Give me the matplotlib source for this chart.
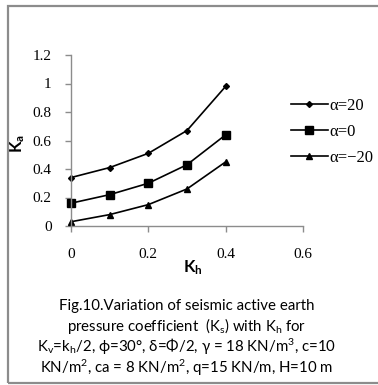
import matplotlib
matplotlib.use("Agg")
import matplotlib.pyplot as plt
from matplotlib.patches import Rectangle

plt.rcParams["mathtext.fontset"] = "custom"
plt.rcParams["mathtext.rm"] = "Lato"
plt.rcParams["mathtext.it"] = "Lato:italic"
plt.rcParams["mathtext.bf"] = "Lato:bold"

# seismic active earth pressure coefficient vs horizontal seismic coefficient
kh = [0.0, 0.1, 0.2, 0.3, 0.4]
ka_alpha_pos20 = [0.34, 0.41, 0.51, 0.67, 0.98]
ka_alpha_0 = [0.16, 0.22, 0.30, 0.43, 0.64]
ka_alpha_neg20 = [0.03, 0.08, 0.15, 0.26, 0.45]

series_labels = ["α=20", "α=0", "α=−20"]
x_ticks = [0, 0.2, 0.4, 0.6]
x_ticklabels = ["0", "0.2", "0.4", "0.6"]
y_ticks = [0, 0.2, 0.4, 0.6, 0.8, 1.0, 1.2]
y_ticklabels = ["0", "0.2", "0.4", "0.6", "0.8", "1", "1.2"]

caption = [
    "Fig.10.Variation of seismic active earth",
    r"pressure coefficient  (K$_\mathrm{s}$) with K$_\mathrm{h}$ for",
    r"K$_\mathrm{v}$=k$_\mathrm{h}$/2, ϕ=30°, δ=Φ/2, γ = 18 KN/m$^\mathrm{3}$, c=10",
    r"KN/m$^\mathrm{2}$, ca = 8 KN/m$^\mathrm{2}$, q=15 KN/m, H=10 m",
]

fig = plt.figure(figsize=(3.78, 3.85), dpi=100)
fig.patch.set_facecolor("white")

# grey frame (open on the right side)
fig.add_artist(Rectangle((8 / 378, 1 - 383 / 385), 380 / 378, 377 / 385,
                         transform=fig.transFigure, fill=False,
                         edgecolor="#8c8c8c", linewidth=1.6))

ax = fig.add_axes([71 / 378, 1 - 226 / 385, 232 / 378, 171 / 385])

markers = ["D", "s", "^"]
msizes = [3, 5.5, 5]
for ys, lab, m, ms in zip([ka_alpha_pos20, ka_alpha_0, ka_alpha_neg20],
                          series_labels, markers, msizes):
    ax.plot(kh, ys, color="black", linewidth=1.2, marker=m, markersize=ms,
            label=lab, clip_on=False)

ax.set_xlim(0, 0.6)
ax.set_ylim(0, 1.2)
ax.set_xticks(x_ticks)
ax.set_xticklabels(x_ticklabels)
ax.set_yticks(y_ticks)
ax.set_yticklabels(y_ticklabels)
for s in ["top", "right"]:
    ax.spines[s].set_visible(False)
for s in ["left", "bottom"]:
    ax.spines[s].set_color("#8c8c8c")
    ax.spines[s].set_linewidth(1.0)
ax.tick_params(axis="both", colors="#8c8c8c", length=4, width=1.0,
               labelcolor="black", labelsize=11)
ax.tick_params(axis="x", pad=12)
ax.tick_params(axis="y", pad=10)
for t in ax.get_xticklabels() + ax.get_yticklabels():
    t.set_fontfamily("Liberation Serif")

ax.set_xlabel(r"$\mathbf{K_h}$", fontsize=12)
ax.set_ylabel(r"$\mathbf{K_a}$", fontsize=12)
ax.xaxis.set_label_coords(0.526, -0.19)
ax.yaxis.set_label_coords(-0.19, 0.485)

leg = fig.legend(loc="upper left", bbox_to_anchor=(291 / 378, 1 - 98 / 385),
                 frameon=False, borderpad=0, borderaxespad=0,
                 handlelength=2.2, handletextpad=0.1, labelspacing=0.6,
                 prop={"family": "Liberation Serif", "size": 12})

for i, line in enumerate(caption):
    fig.text(0.5 - 2 / 378, 1 - (306 + i * 20.5) / 385, line, ha="center",
             va="center", fontfamily="Lato", fontsize=10.8)

fig.savefig("out.png", dpi=100)
